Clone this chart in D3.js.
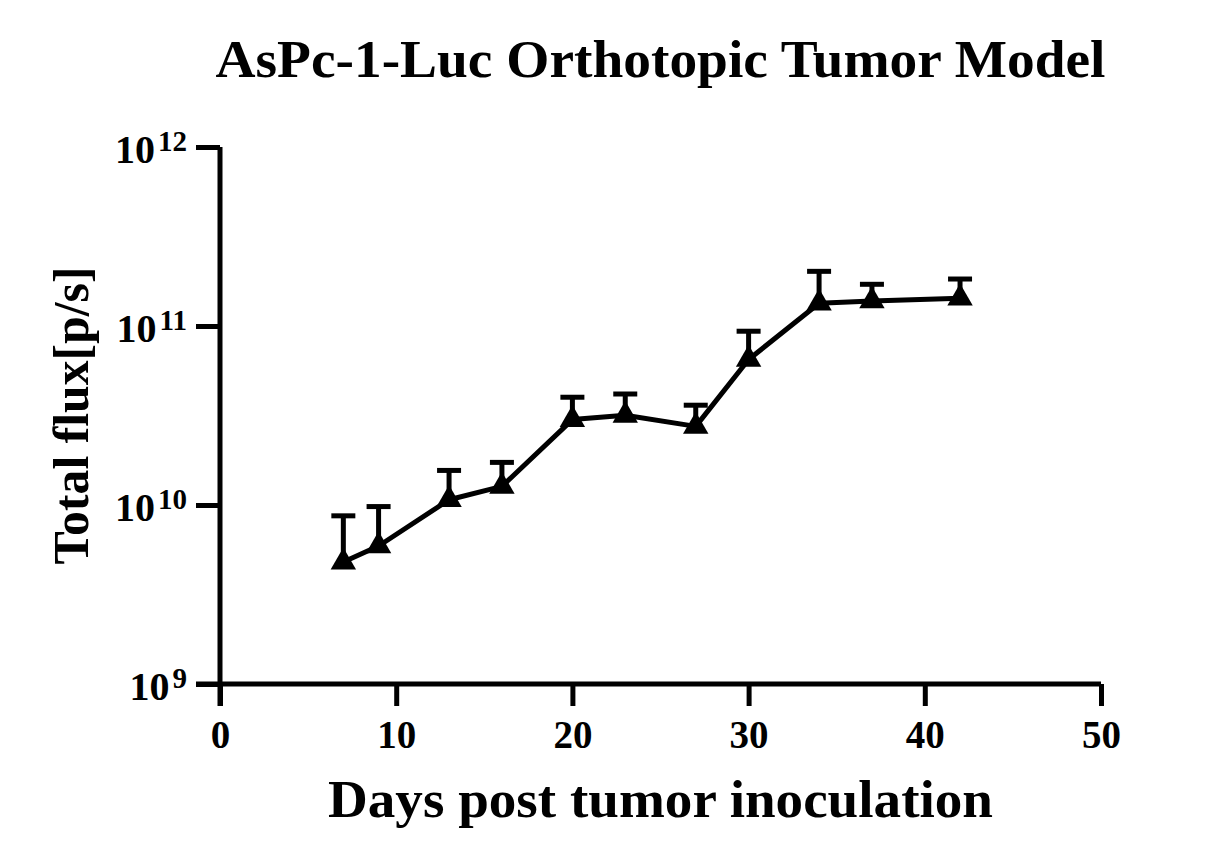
<!DOCTYPE html>
<html>
<head>
<meta charset="utf-8">
<script src="https://cdn.jsdelivr.net/npm/d3@7"></script>
<style>
  body { margin: 0; background: #fff; }
  text { font-family: "Liberation Serif", "Times New Roman", serif; font-weight: bold; fill: #000; }
</style>
</head>
<body>
<script>
// data
var days = [7, 9, 13, 16, 20, 23, 27, 30, 34, 37, 42];
var flux = [4.8e9, 5.9e9, 1.07e10, 1.27e10, 3.0e10, 3.17e10, 2.75e10, 6.5e10, 1.34e11, 1.38e11, 1.43e11];
var fluxErr = [3.9e9, 3.9e9, 4.9e9, 4.6e9, 1.0e10, 1.0e10, 8.6e9, 2.85e10, 6.8e10, 3.3e10, 4.0e10];
var xTicks = [0, 10, 20, 30, 40, 50];
var yTicks = [1e9, 1e10, 1e11, 1e12];

var svgWidth = 1232;
var svgHeight = 866;

var margin = { top: 147, right: 131, bottom: 182, left: 220 };
var chartWidth = svgWidth - margin.left - margin.right;
var chartHeight = svgHeight - margin.top - margin.bottom;

var svg = d3.select("body")
  .append("svg")
  .attr("width", svgWidth)
  .attr("height", svgHeight);

svg.append("rect")
  .attr("width", svgWidth)
  .attr("height", svgHeight)
  .attr("fill", "#fff");

var chartGroup = svg.append("g")
  .attr("transform", `translate(${margin.left}, ${margin.top})`);

var xScale = d3.scaleLinear()
  .domain([0, 50])
  .range([0, chartWidth]);

var yScale = d3.scaleLog()
  .domain([1e9, 1e12])
  .range([chartHeight, 0]);

// x axis
var xAxisG = chartGroup.append("g")
  .attr("transform", `translate(0, ${chartHeight})`)
  .call(d3.axisBottom(xScale).tickValues(xTicks).tickSize(22).tickSizeOuter(0).tickPadding(8));
xAxisG.select(".domain").attr("stroke", "#000").attr("stroke-width", 5).attr("d", `M-24,0H${chartWidth}`);
xAxisG.selectAll(".tick line").attr("stroke", "#000").attr("stroke-width", 5);
xAxisG.selectAll(".tick text")
  .attr("dy", null)
  .attr("y", 64)
  .style("font-size", "39px");

// y axis
var yAxisG = chartGroup.append("g")
  .call(d3.axisLeft(yScale).tickValues(yTicks).tickSize(24).tickSizeOuter(0).tickFormat(""));
yAxisG.select(".domain").attr("stroke", "#000").attr("stroke-width", 5).attr("d", `M0,${chartHeight + 22}V0`);
yAxisG.selectAll(".tick line").attr("stroke", "#000").attr("stroke-width", 5);
yAxisG.selectAll(".tick text").remove();

var yLab = yAxisG.selectAll(".tick")
  .append("text")
  .attr("x", -33)
  .attr("y", 15)
  .attr("text-anchor", "end");
yLab.append("tspan")
  .style("font-size", "40px")
  .text("10");
yLab.append("tspan")
  .attr("dx", 3)
  .attr("dy", -12)
  .style("font-size", "29px")
  .text(d => Math.round(Math.log10(d)));

// error bars (upper only)
var capW = 24;
var errG = chartGroup.append("g")
  .attr("stroke", "#000")
  .attr("stroke-width", 5)
  .attr("fill", "none");

days.forEach(function(d, i) {
  var cx = xScale(d);
  var top = yScale(flux[i] + fluxErr[i]);
  errG.append("line")
    .attr("x1", cx).attr("x2", cx)
    .attr("y1", yScale(flux[i])).attr("y2", top);
  errG.append("line")
    .attr("x1", cx - capW / 2).attr("x2", cx + capW / 2)
    .attr("y1", top).attr("y2", top);
});

// line
var line = d3.line()
  .x((d, i) => xScale(days[i]))
  .y(d => yScale(d));

chartGroup.append("path")
  .datum(flux)
  .attr("d", line)
  .attr("fill", "none")
  .attr("stroke", "#000")
  .attr("stroke-width", 5)
  .attr("stroke-linejoin", "round");

// triangle markers
var tri = d3.symbol().type(d3.symbolTriangle).size(280);
chartGroup.selectAll(".marker")
  .data(flux)
  .enter()
  .append("path")
  .attr("class", "marker")
  .attr("d", tri)
  .attr("transform", (d, i) => `translate(${xScale(days[i])}, ${yScale(d)})`)
  .attr("fill", "#000");

// axis labels
chartGroup.append("text")
  .attr("x", chartWidth / 2)
  .attr("y", chartHeight + 133)
  .attr("text-anchor", "middle")
  .attr("textLength", 665)
  .attr("lengthAdjust", "spacingAndGlyphs")
  .style("font-size", "52px")
  .text("Days post tumor inoculation");

chartGroup.append("text")
  .attr("transform", "rotate(-90)")
  .attr("x", -chartHeight / 2)
  .attr("y", -132)
  .attr("text-anchor", "middle")
  .attr("textLength", 298)
  .attr("lengthAdjust", "spacingAndGlyphs")
  .style("font-size", "50px")
  .text("Total flux[p/s]");

// title
chartGroup.append("text")
  .attr("x", chartWidth / 2)
  .attr("y", -70)
  .attr("text-anchor", "middle")
  .attr("textLength", 890)
  .attr("lengthAdjust", "spacingAndGlyphs")
  .style("font-size", "52px")
  .text("AsPc-1-Luc Orthotopic Tumor Model");
</script>
</body>
</html>
